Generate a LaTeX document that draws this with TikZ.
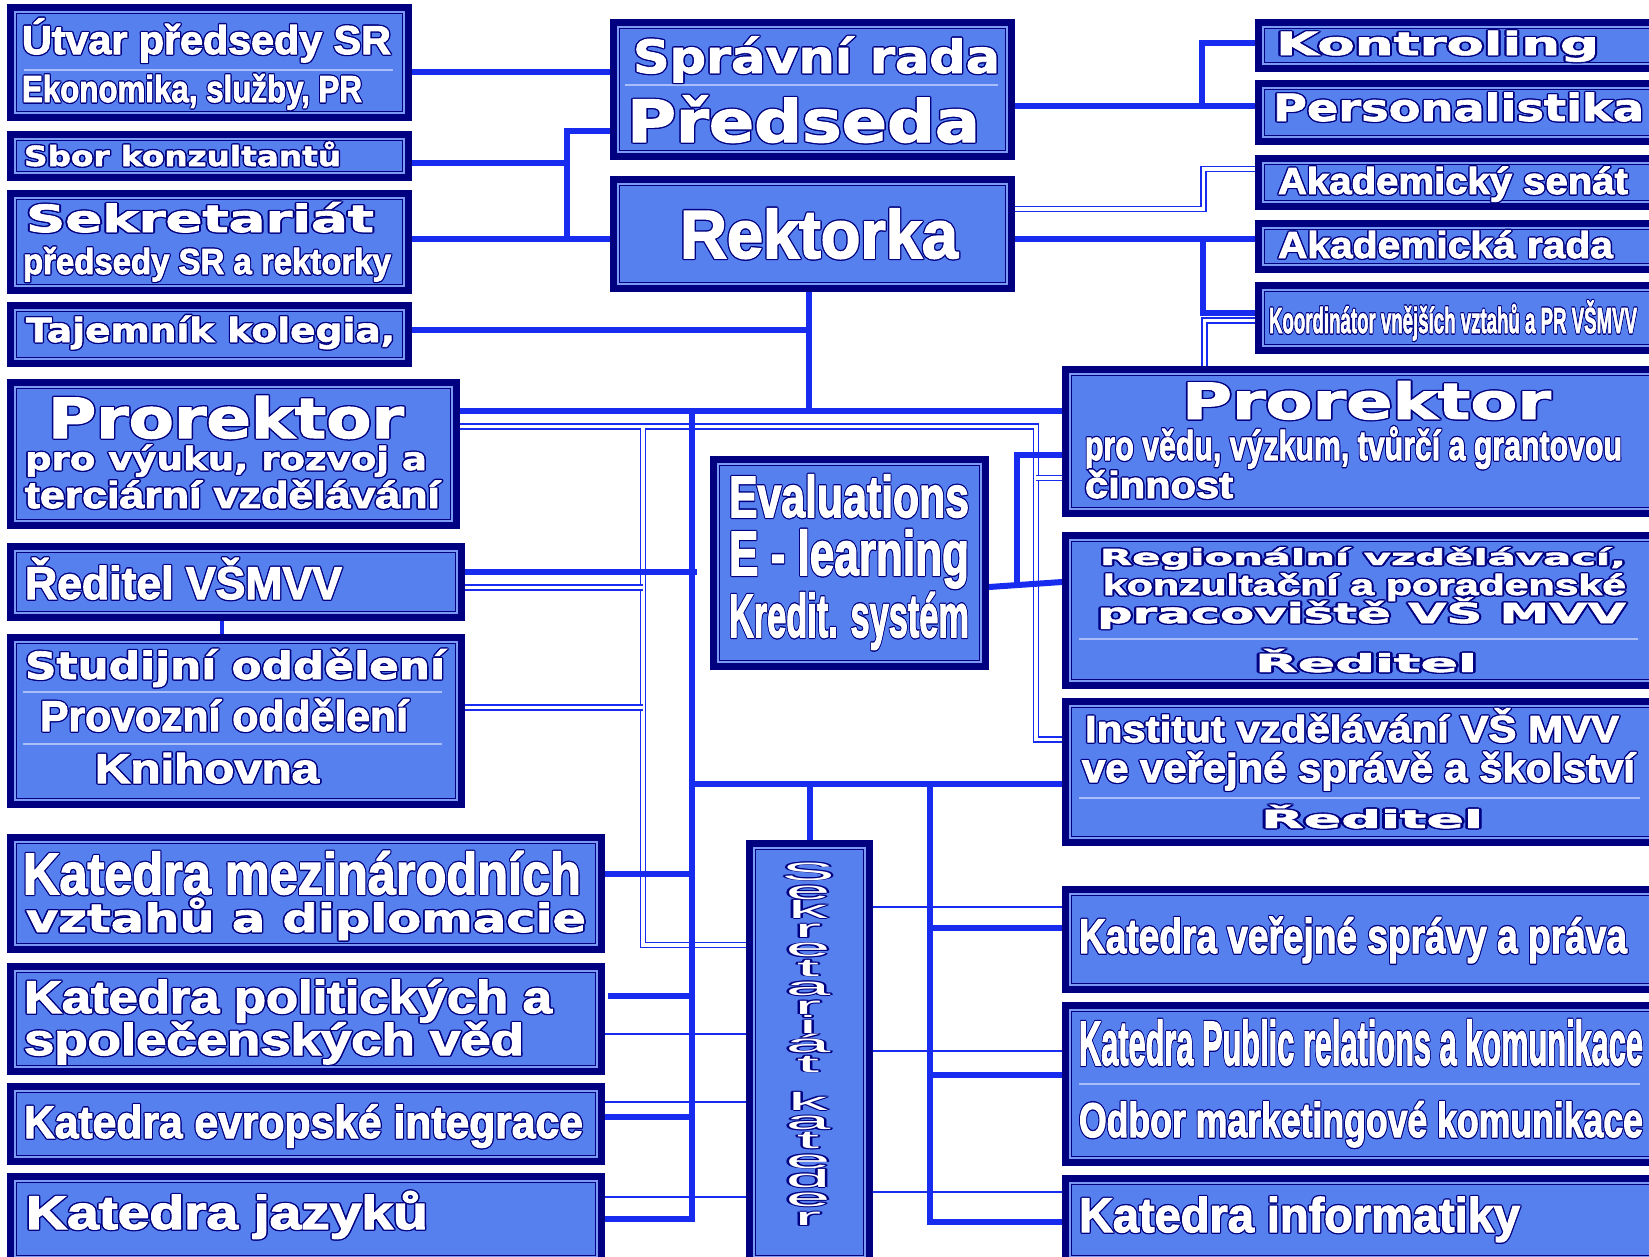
\documentclass[tikz,border=0pt]{standalone}
\usepackage{fontspec}
\setmainfont{Liberation Sans}
\newfontfamily\wfont{DejaVu Sans}[FakeBold=1.8]
\newfontfamily\nfont{Liberation Sans}[FakeBold=2.6]
\usepackage{graphicx}
\definecolor{nv}{RGB}{0,0,128}
\definecolor{fillc}{RGB}{86,128,238}
\definecolor{gapc}{RGB}{125,155,245}
\definecolor{lc}{RGB}{24,44,240}
\definecolor{divc}{RGB}{170,190,250}
\pgfdeclarelayer{bg}
\pgfsetlayers{bg,main}
\newdimen\olw \olw=1.3pt
\newcommand\olcp[2]{\rlap{\kern#1\olw\raise#2\olw\hbox{\color{nv}\copy0}}}
\newcommand\olt[1]{{\setbox0\hbox{#1}\olcp{1}{0}\olcp{-1}{0}\olcp{0}{1}\olcp{0}{-1}\olcp{.7}{.7}\olcp{-.7}{.7}\olcp{.7}{-.7}\olcp{-.7}{-.7}\hbox{\color{white}\box0}}}
\newcommand\fitt[4]{{\pgfmathsetmacro\fsz{#2/0.72}\fontsize{\fsz pt}{\fsz pt}\selectfont#3\setbox2\hbox{#4}\edef\tw{\the\wd2}\pgfmathsetmacro\sx{#1/\tw}\scalebox{\sx}[1]{\olt{#4}}}}
\newcommand\tl[7]{\node[anchor=base west,inner sep=0pt,outer sep=0pt] (#1) at (#2,#3) {\fitt{#4}{#5}{#6}{#7}};}
\newcommand\bxn[5]{\node[bx,minimum width={(#4-#2)*1pt},minimum height={(#5-#3)*1pt}] (#1) at ({(#2+#4)/2},{(#3+#5)/2}) {};}
\newcommand\sklet[1]{{\olw=0.8pt\scalebox{3.2}[1]{\fontsize{25pt}{25pt}\selectfont\olt{#1}}}}
\newcommand\NN{\nfont\bfseries}
\newcommand\WW{\wfont\bfseries}
\tikzset{
 bx/.style={rectangle,inner sep=0pt,outer sep=0pt,fill=nv,draw=none,
  path picture={
   \fill[gapc] ([shift={(7pt,-7pt)}]path picture bounding box.north west) rectangle ([shift={(-7pt,7pt)}]path picture bounding box.south east);
   \fill[nv] ([shift={(8.7pt,-8.7pt)}]path picture bounding box.north west) rectangle ([shift={(-8.7pt,8.7pt)}]path picture bounding box.south east);
   \fill[fillc] ([shift={(10.3pt,-10.3pt)}]path picture bounding box.north west) rectangle ([shift={(-10.3pt,10.3pt)}]path picture bounding box.south east);
  }},
 thk/.style={draw=lc,line width=6pt},
 dbl/.style={draw=lc,line width=1.7pt,double=white,double distance=3.4pt},
 thn/.style={draw=lc,line width=1.8pt},
 dv/.style={draw=divc,line width=1.5pt}
}
\begin{document}
\begin{tikzpicture}[x=1pt,y=-1pt]
\useasboundingbox (0,0) rectangle (1649,1256);
\clip (0,0) rectangle (1649,1256);
% boxes
\bxn{utvar}{7}{4}{412}{121}
\bxn{sbor}{7}{131}{412}{181}
\bxn{sekr}{7}{190}{412}{294}
\bxn{taj}{7}{302}{412}{367}
\bxn{prorV}{7}{379}{460}{529}
\bxn{reditel}{7}{543}{465}{621}
\bxn{stud}{7}{634}{465}{808}
\bxn{katMV}{7}{834}{605}{953}
\bxn{katPol}{7}{963}{605}{1075}
\bxn{katEv}{7}{1083}{605}{1165}
\bxn{katJaz}{7}{1173}{605}{1265}
\bxn{spravni}{610}{19}{1015}{160}
\bxn{rekt}{610}{176}{1015}{292}
\bxn{eval}{710}{456}{989}{670}
\bxn{sekrKat}{746}{840}{873}{1265}
\bxn{kontrol}{1255}{19}{1665}{72}
\bxn{person}{1255}{80}{1665}{145}
\bxn{senat}{1255}{155}{1665}{210}
\bxn{rada}{1255}{220}{1665}{273}
\bxn{koord}{1255}{282}{1665}{354}
\bxn{prorR}{1062}{366}{1665}{517}
\bxn{region}{1062}{532}{1665}{689}
\bxn{institut}{1062}{698}{1665}{846}
\bxn{katVS}{1062}{886}{1665}{993}
\bxn{katPR}{1062}{1002}{1665}{1166}
\bxn{katInf}{1062}{1175}{1665}{1265}
% connectors
\begin{pgfonlayer}{bg}
\fill[white] (0,0) rectangle (1649,1256);
\draw[dbl] (rekt.east |- 0,209) -- (1203.5,209) -- (1203.5,169) -- (senat.west |- 0,169);
\draw[dbl] (koord.west |- 0,320.5) -- (1204.5,320.5) -- (prorR.north -| 1204.5,0);
\draw[dbl] (prorV.east |- 0,426.5) -- (1036,426.5) -- (1036,739.5) -- (institut.west |- 0,739.5);
\draw[dbl] (1036,478) -- (prorR.west |- 0,478);
\draw[dbl] (643,427.5) -- (643,945) -- (sekrKat.west |- 0,945);
\draw[dbl] (reditel.east |- 0,587.5) -- (643,587.5);
\draw[dbl] (stud.east |- 0,707.5) -- (643,707.5);
\draw[thn] (katPol.east |- 0,1034) -- (sekrKat.west |- 0,1034);
\draw[thn] (katEv.east |- 0,1102) -- (sekrKat.west |- 0,1102);
\draw[thn] (katJaz.east |- 0,1197) -- (sekrKat.west |- 0,1197);
\draw[thn] (sekrKat.east |- 0,907) -- (katVS.west |- 0,907);
\draw[thn] (sekrKat.east |- 0,1051) -- (katPR.west |- 0,1051);
\draw[thn] (sekrKat.east |- 0,1192) -- (katInf.west |- 0,1192);
\draw[thk] (utvar.east |- 0,72) -- (spravni.west |- 0,72);
\draw[thk] (spravni.west |- 0,131) -- (567,131) -- (567,239);
\draw[thk] (sbor.east |- 0,163) -- (567,163);
\draw[thk] (sekr.east |- 0,239) -- (rekt.west |- 0,239);
\draw[thk] (taj.east |- 0,330) -- (809,330);
\draw[thk] (rekt.south -| 809,0) -- (809,411);
\draw[thk] (prorV.east |- 0,411) -- (prorR.west |- 0,411);
\draw[thk] (katJaz.east |- 0,1219) -- (692,1219) -- (692,408);
\draw[thk] (reditel.east |- 0,572) -- (697,572);
\draw[thk] (692,784) -- (institut.west |- 0,784);
\draw[thk] (810,784) -- (sekrKat.north -| 810,0);
\draw[thk] (930,784) -- (930,1222) -- (katInf.west |- 0,1222);
\draw[thk] (katMV.east |- 0,874) -- (692,874);
\draw[thk] (608,996) -- (692,996);
\draw[thk] (katEv.east |- 0,1117) -- (692,1117);
\draw[thk] (930,928) -- (katVS.west |- 0,928);
\draw[thk] (930,1075) -- (katPR.west |- 0,1075);
\draw[thk] (eval.east |- 0,587) -- (region.west |- 0,582);
\draw[thk] (1017,585) -- (1017,455) -- (prorR.west |- 0,455);
\draw[thk] (spravni.east |- 0,106) -- (person.west |- 0,106);
\draw[thk] (kontrol.west |- 0,43) -- (1202,43) -- (1202,109);
\draw[thk] (rekt.east |- 0,239) -- (rada.west |- 0,239);
\draw[thk] (1203,236) -- (1203,313) -- (koord.west |- 0,313);
\draw[thk,line width=4pt] (reditel.south -| 222,0) -- (stud.north -| 222,0);
\end{pgfonlayer}
% dividers
\draw[dv] (24,70) -- (393,70);
\draw[dv] (625,85) -- (998,85);
\draw[dv] (23,692) -- (442,692);
\draw[dv] (23,744) -- (442,744);
\draw[dv] (1079,639) -- (1638,639);
\draw[dv] (1079,798) -- (1640,798);
\draw[dv] (1079,1084) -- (1640,1084);
% texts
\tl{t1}{22}{54}{369}{29}{\NN}{Útvar předsedy SR}
\tl{t2}{22}{102}{340}{27}{\NN}{Ekonomika, služby, PR}
\tl{t3}{24}{166}{317}{20}{\WW}{Sbor konzultantů}
\tl{t4}{26}{232}{348}{27}{\WW}{Sekretariát}
\tl{t5}{23}{274}{368}{26}{\NN}{předsedy SR a rektorky}
\tl{t6}{26}{342}{369}{24}{\WW}{Tajemník kolegia,}
\tl{t7}{48}{438}{356}{40}{\WW}{Prorektor}
\tl{t8}{25}{470}{402}{23}{\WW}{pro výuku, rozvoj a}
\tl{t9}{25}{508}{415}{27}{\NN}{terciární vzdělávání}
\tl{t10}{25}{599}{317}{33}{\NN}{Ředitel VŠMVV}
\tl{t11}{25}{679}{420}{27}{\WW}{Studijní oddělení}
\tl{t12}{40}{731}{368}{31}{\NN}{Provozní oddělení}
\tl{t13}{95}{783}{224}{30}{\NN}{Knihovna}
\tl{t14}{23}{894}{558}{42}{\NN}{Katedra mezinárodních}
\tl{t15}{26}{932}{560}{28}{\WW}{vztahů a diplomacie}
\tl{t16}{24}{1013}{528}{33}{\NN}{Katedra politických a}
\tl{t17}{24}{1055}{500}{32}{\NN}{společenských věd}
\tl{t18}{24}{1138}{559}{33}{\NN}{Katedra evropské integrace}
\tl{t19}{26}{1229}{402}{34}{\NN}{Katedra jazyků}
\tl{t20}{633}{73}{367}{33}{\WW}{Správní rada}
\tl{t21}{627}{142}{353}{42}{\WW}{Předseda}
\tl{t22}{680}{258}{278}{49}{\NN}{Rektorka}
\tl{t23}{729}{517}{240}{42}{\NN}{Evaluations}
\tl{t24}{729}{575}{240}{45}{\NN}{E - learning}
\tl{t25}{729}{637}{240}{44}{\NN}{Kredit. systém}
\tl{t26}{1276}{55}{323}{23}{\WW}{Kontroling}
\tl{t27}{1273}{121}{371}{27}{\WW}{Personalistika}
\tl{t28}{1278}{194}{350}{27}{\NN}{Akademický senát}
\tl{t29}{1278}{258}{335}{27}{\NN}{Akademická rada}
\tl{t30}{1269}{333}{368}{26}{\NN}{Koordinátor vnějších vztahů a PR VŠMVV}
\tl{t31}{1182}{419}{369}{36}{\WW}{Prorektor}
\tl{t32}{1085}{460}{537}{30}{\NN}{pro vědu, výzkum, tvůrčí a grantovou}
\tl{t33}{1085}{498}{148}{27}{\NN}{činnost}
\tl{t34}{1100}{565}{526}{16}{\WW}{Regionální vzdělávací,}
\tl{t35}{1103}{595}{523}{21}{\NN}{konzultační a poradenské}
\tl{t36}{1097}{623}{529}{20}{\WW}{pracoviště VŠ MVV}
\tl{t37}{1255}{672}{222}{18}{\WW}{Ředitel}
\tl{t38}{1085}{742}{534}{27}{\NN}{Institut vzdělávání VŠ MVV}
\tl{t39}{1082}{782}{553}{29}{\NN}{ve veřejné správě a školství}
\tl{t40}{1261}{828}{222}{18}{\WW}{Ředitel}
\tl{t41}{1079}{953}{548}{35}{\NN}{Katedra veřejné správy a práva}
\tl{t42}{1079}{1065}{564}{45}{\NN}{Katedra Public relations a komunikace}
\tl{t43}{1079}{1137}{564}{35}{\NN}{Odbor marketingové komunikace}
\tl{t44}{1079}{1232}{441}{35}{\NN}{Katedra informatiky}
\foreach \ch [count=\i from 0] in {S,e,k,r,e,t,a,r,i,á,t,{},k,a,t,e,d,e,r}
  \node[anchor=base,inner sep=0pt] (sk\i) at (808,{880+19.2*\i}) {\sklet{\ch}};
\end{tikzpicture}
\end{document}
